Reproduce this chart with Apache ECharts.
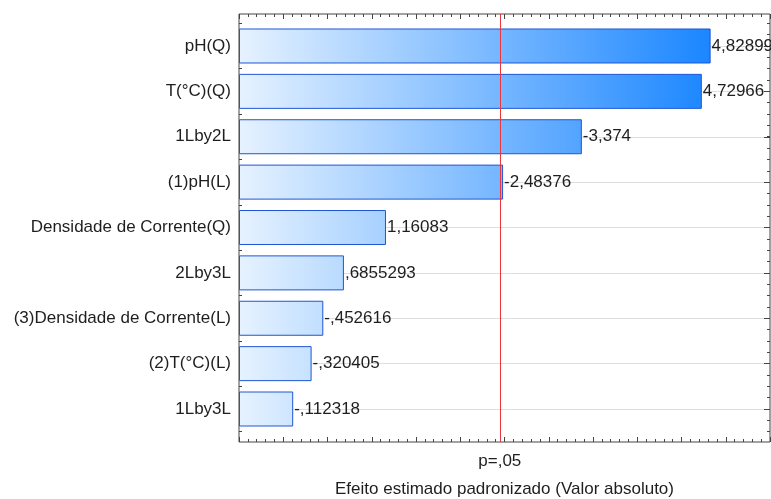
<!DOCTYPE html>
<html>
<head>
<meta charset="utf-8">
<script src="https://cdn.jsdelivr.net/npm/echarts@6/dist/echarts.min.js"></script>
<style>
  html, body { margin: 0; padding: 0; background: #fff; }
  #chart { width: 771px; height: 499px; }
</style>
</head>
<body>
<div id="chart"></div>
<script>
// efeitos (valor absoluto) e rótulos como aparecem no gráfico
const categories = ['pH(Q)', 'T(°C)(Q)', '1Lby2L', '(1)pH(L)', 'Densidade de Corrente(Q)',
  '2Lby3L', '(3)Densidade de Corrente(L)', '(2)T(°C)(L)', '1Lby3L'];
const effects = [4.82899, 4.72966, 3.374, 2.48376, 1.16083, 0.6855293, 0.452616, 0.320405, 0.112318];
const effectLabels = ['4,82899', '4,72966', '-3,374', '-2,48376', '1,16083', ',6855293', '-,452616', '-,320405', '-,112318'];
const pCritical = 2.447;
const pLabel = 'p=,05';
const xName = 'Efeito estimado padronizado (Valor absoluto)';

const font = "'Liberation Sans', Arial, sans-serif";
const frameColor = '#444';
const textColor = '#1e1e1e';
const fs = 17;
const xMin = -0.5, xMax = 5.5;

const chart = echarts.init(document.getElementById('chart'));

const option = {
  animation: false,
  textStyle: { fontFamily: font },
  grid: [
    { left: 239, right: 1, top: 14, height: 428, show: true, borderColor: frameColor, borderWidth: 1, outerBoundsMode: 'none' },
    { left: 239, right: 1, top: 23.3, height: 408.4, outerBoundsMode: 'none' },
    { left: 239, right: 1, top: 46, height: 363, outerBoundsMode: 'none' }
  ],
  xAxis: [
    {
      type: 'value', gridIndex: 0, position: 'bottom', min: xMin, max: xMax, interval: 0.5,
      axisLine: { show: false },
      axisTick: { inside: true, length: 5, lineStyle: { color: frameColor } },
      minorTick: { show: true, splitNumber: 5, length: 3, lineStyle: { color: frameColor } },
      splitLine: { show: false },
      axisLabel: {
        customValues: [pCritical], formatter: () => pLabel,
        color: textColor, fontSize: fs, margin: 11, fontFamily: font
      },
      name: xName, nameLocation: 'middle', nameGap: 39,
      nameTextStyle: { color: textColor, fontSize: fs, fontFamily: font }
    },
    {
      type: 'value', gridIndex: 0, position: 'top', min: xMin, max: xMax, interval: 0.5,
      axisLine: { show: false },
      axisTick: { inside: true, length: 5, lineStyle: { color: frameColor } },
      minorTick: { show: true, splitNumber: 5, length: 3, lineStyle: { color: frameColor } },
      splitLine: { show: false },
      axisLabel: { show: false }
    },
    // eixo das barras: barras partem da borda esquerda (início do eixo)
    { type: 'value', gridIndex: 1, min: xMin, max: xMax, startValue: xMin, show: false },
    { type: 'value', gridIndex: 2, min: xMin, max: xMax, show: false }
  ],
  yAxis: [
    {
      type: 'category', gridIndex: 1, data: categories, inverse: true,
      axisLine: { show: false }, axisTick: { show: false }, splitLine: { show: false },
      axisLabel: { color: textColor, fontSize: fs, margin: 8, fontFamily: font }
    },
    {
      type: 'value', gridIndex: 1, position: 'left', inverse: true, min: -0.5, max: 8.5, interval: 0.25,
      axisLine: { show: false }, splitLine: { show: false }, axisLabel: { show: false },
      axisTick: { inside: true, length: 3, lineStyle: { color: frameColor } }
    },
    {
      type: 'value', gridIndex: 1, position: 'right', inverse: true, min: -0.5, max: 8.5, interval: 0.25,
      axisLine: { show: false }, splitLine: { show: false }, axisLabel: { show: false },
      axisTick: { inside: true, length: 3, lineStyle: { color: frameColor } }
    },
    {
      type: 'category', gridIndex: 2, data: categories, inverse: true, boundaryGap: false, position: 'left',
      axisLine: { show: false }, axisLabel: { show: false },
      axisTick: { inside: true, length: 6, interval: 0, lineStyle: { color: frameColor } },
      splitLine: { show: true, interval: 0, lineStyle: { color: '#dedede', width: 1 } }
    },
    {
      type: 'category', gridIndex: 2, data: categories, inverse: true, boundaryGap: false, position: 'right',
      axisLine: { show: false }, axisLabel: { show: false }, splitLine: { show: false },
      axisTick: { inside: true, length: 6, interval: 0, lineStyle: { color: frameColor } }
    },
    { type: 'value', gridIndex: 0, min: 0, max: 1, show: false }
  ],
  series: [
    {
      type: 'bar', xAxisIndex: 2, yAxisIndex: 0, data: effects, barWidth: 35, z: 3,
      itemStyle: {
        color: {
          type: 'linear', x: 239, y: 0, x2: 712, y2: 0, global: true,
          colorStops: [{ offset: 0, color: '#e6f2ff' }, { offset: 1, color: '#1a86ff' }]
        },
        borderColor: '#1f56d6', borderWidth: 1
      },
      label: {
        show: true, position: 'right', distance: 1, color: textColor, fontSize: fs, fontFamily: font,
        formatter: (p) => effectLabels[p.dataIndex]
      }
    },
    {
      type: 'scatter', xAxisIndex: 0, yAxisIndex: 5, data: [], z: 4,
      markLine: {
        silent: true, symbol: 'none', label: { show: false },
        lineStyle: { color: '#e8383d', type: 'solid', width: 1 },
        data: [{ xAxis: pCritical }]
      }
    }
  ]
};

chart.setOption(option);
</script>
</body>
</html>
